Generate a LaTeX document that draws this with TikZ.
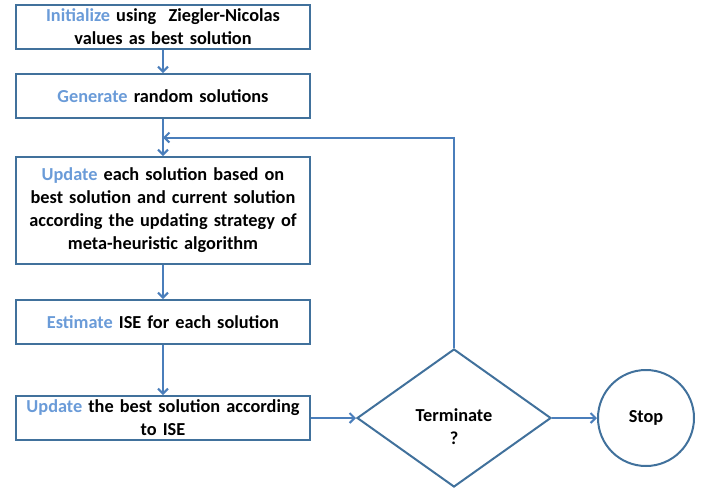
\documentclass[tikz,border=0pt]{standalone}
\usepackage{fontspec}
\setmainfont{Carlito}
\usetikzlibrary{shapes.geometric, positioning, calc, arrows.meta}
\definecolor{lineblue}{HTML}{4A7EBB}
\definecolor{boxblue}{HTML}{41719C}
\definecolor{keyblue}{HTML}{6A9BD8}
\newcommand{\kw}[1]{\textcolor{keyblue}{#1}}

\begin{document}
\begin{tikzpicture}[x=1pt, y=-1pt, node distance=37pt, >={Straight Barb[length=5pt,width=10pt]}]
    \tikzstyle{stepbox}=[draw=boxblue, line width=2pt, rectangle, minimum width=294pt, minimum height=44pt, text width=292pt, inner sep=0pt, align=center, font=\bfseries\fontsize{18.3}{23}\selectfont];
    \tikzstyle{flow}=[draw=lineblue, line width=2pt, ->];
    \useasboundingbox (0,0) rectangle (707,488);

    \node[stepbox] (init) at (163,27) {\kw{Initialize} using\ \ Ziegler-Nicolas\\ values as best solution};
    \node[stepbox, below=23pt of init] (gen) {\kw{Generate} random solutions};
    \node[stepbox, below=of gen, minimum height=107pt] (upd) {\kw{Update} each solution based on\\ best solution and current solution\\ according the updating strategy of\\ meta-heuristic algorithm};
    \node[stepbox, below=34pt of upd] (est) {\kw{Estimate} ISE for each solution};
    \node[stepbox, below=50pt of est] (best) {\kw{Update} the best solution according\\ to ISE};
    \node[draw=boxblue, line width=2pt, diamond, minimum width=194pt, minimum height=138pt, inner sep=0pt, right=45pt of best,
      label={[align=center, yshift=-9pt, font=\bfseries\fontsize{18.3}{23}\selectfont]center:{Terminate\\?}}] (term) {};
    \node[draw=boxblue, line width=2pt, circle, minimum size=96pt, inner sep=0pt, font=\bfseries\fontsize{18.3}{23}\selectfont, right=45pt of term] (stop) {Stop};

    \coordinate (join) at ($(gen.south)!.5!(upd.north)$);

    \path[flow]
    (init) edge (gen)
    (gen) edge (upd)
    (upd) edge (est)
    (est) edge (best)
    (best) edge (term)
    (term) edge (stop);
    \draw[flow] (term.north) |- (join);
  \end{tikzpicture}
\end{document}
